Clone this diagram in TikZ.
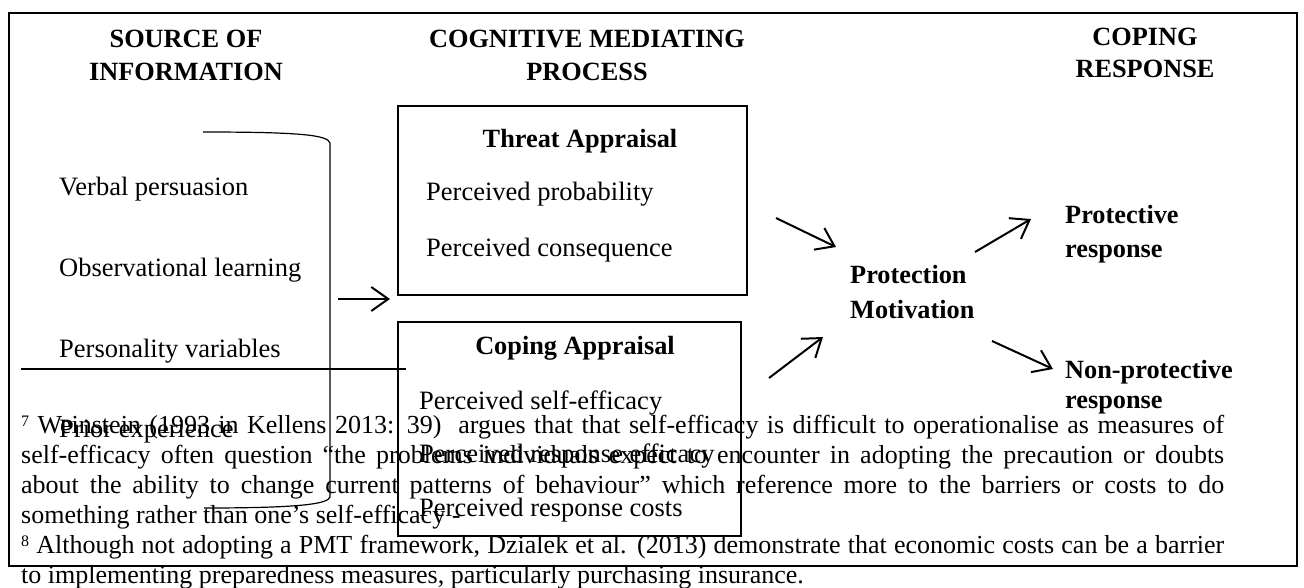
\documentclass[tikz,border=0pt]{standalone}
\usepackage{fontspec}
\setmainfont{Liberation Serif}
\usetikzlibrary{arrows.meta}
\newcommand\fnmark[1]{\raisebox{7pt}{\fontsize{16}{16}\selectfont #1}}
\tikzset{
  txt/.style={anchor=base west, inner sep=0pt, font=\fontsize{26.5}{30}\selectfont},
  btxt/.style={anchor=base west, inner sep=0pt, font=\fontsize{26.3}{30}\selectfont\bfseries},
  ctr/.style={anchor=base, inner sep=0pt, font=\fontsize{26.3}{30}\selectfont\bfseries},
  fn/.style={anchor=base west, inner sep=0pt, font=\fontsize{26}{30}\selectfont},
  apbox/.style={draw, line width=2pt, inner sep=0pt, anchor=north west},
  arr/.style={line width=2pt, -{Straight Barb[length=17pt,width=24pt]}},
}
\begin{document}
\begin{tikzpicture}[x=1pt,y=-1pt]
\clip (0,0) rectangle (1304,587);
\fill[white] (0,0) rectangle (1304,587);
% frame
\draw[line width=2.5pt] (9,13) rectangle (1297,566);
% headers
\node[ctr] (h1a) at (186,47) {SOURCE OF};
\node[ctr] (h1b) at (186,80) {INFORMATION};
\node[ctr] (h2a) at (587,47) {COGNITIVE MEDIATING};
\node[ctr] (h2b) at (587,80) {PROCESS};
\node[ctr] (h3a) at (1145,45) {COPING};
\node[ctr] (h3b) at (1145,77) {RESPONSE};
% sources
\node[txt] (s1) at (59,195) {Verbal persuasion};
\node[txt] (s2) at (59,276) {Observational learning};
\node[txt] (s3) at (59,357) {Personality variables};
\node[txt] (s4) at (59,437) {Prior experience};
% bracket
\draw[line width=1.2pt] (203,132) .. controls (300,132) and (328,135) .. (330,143)
  -- (330,497) .. controls (328,504) and (300,508) .. (204,508);
% footnote separator
\draw[line width=1.5pt] (21,369) -- (406,369);
% footnotes
\node[fn] (f1) at (21,433) {\hbox to 1203pt{\fnmark{7} Weinstein (1993 in Kellens 2013: 39)~ argues that that self-efficacy is difficult to operationalise as measures of}};
\node[fn] (f2) at (21,463) {\hbox to 1203pt{self-efficacy often question “the problems individuals expect to encounter in adopting the precaution or doubts}};
\node[fn] (f3) at (21,493) {\hbox to 1203pt{about the ability to change current patterns of behaviour” which reference more to the barriers or costs to do}};
\node[fn] (f4) at (21,523) {something rather than one’s self-efficacy -};
\node[fn] (f5) at (21,553) {\hbox to 1203pt{\fnmark{8} Although not adopting a PMT framework, Dzialek et al. (2013) demonstrate that economic costs can be a barrier}};
\node[fn] (f6) at (21,583) {to implementing preparedness measures, particularly purchasing insurance.};
% threat appraisal box
\node[apbox, minimum width=349pt, minimum height=189pt] (threat) at (397,105) {};
\node[ctr] (tt) at (580,147) {Threat Appraisal};
\node[txt] (t1) at (426,200) {Perceived probability};
\node[txt] (t2) at (426,256) {Perceived consequence};
% coping appraisal box
\node[apbox, minimum width=343pt, minimum height=214pt] (coping) at (397,321) {};
\node[ctr] (ct) at (575,354) {Coping Appraisal};
\node[txt] (c1) at (419,409) {Perceived self-efficacy};
\node[txt] (c2) at (419,462) {Perceived response efficacy};
\node[txt] (c3) at (419,516) {Perceived response costs};
% protection motivation and responses
\node[btxt] (pm1) at (850,283) {Protection};
\node[btxt] (pm2) at (850,318) {Motivation};
\node[btxt] (pr1) at (1065,223) {Protective};
\node[btxt] (pr2) at (1065,257) {response};
\node[btxt] (np1) at (1065,378) {Non-protective};
\node[btxt] (np2) at (1065,408) {response};
% arrow end points
\coordinate (a0s) at (338,299); \coordinate (a0e) at (390,299);
\coordinate (a1s) at (776,218); \coordinate (a1e) at (836,247);
\coordinate (a2s) at (769,378); \coordinate (a2e) at (823,337);
\coordinate (a3s) at (975,252); \coordinate (a3e) at (1031,219);
\coordinate (a4s) at (992,341); \coordinate (a4e) at (1053,369);
\draw[arr] (a0s) -- (a0e);
\draw[arr] (a1s) -- (a1e);
\draw[arr] (a2s) -- (a2e);
\draw[arr] (a3s) -- (a3e);
\draw[arr] (a4s) -- (a4e);
\end{tikzpicture}
\end{document}
